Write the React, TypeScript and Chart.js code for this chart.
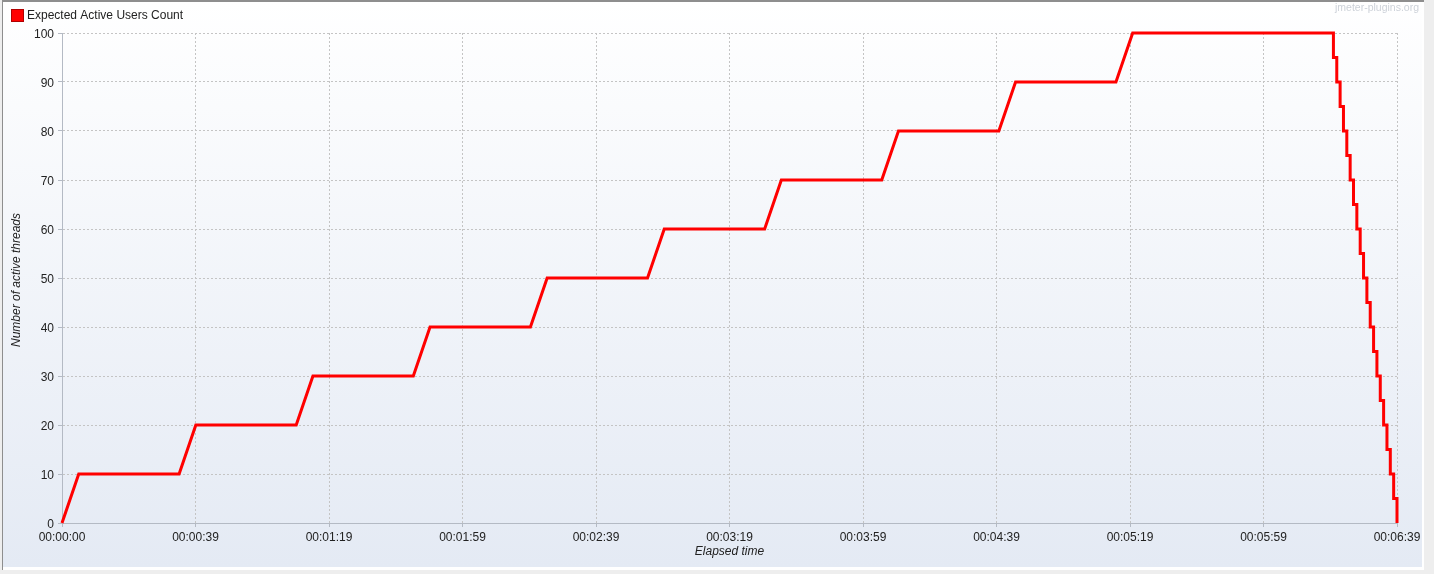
import React, { useEffect, useRef } from 'react';
import { Chart, registerables } from 'chart.js';

Chart.register(...registerables);

const SERIES_LABEL = 'Expected Active Users Count';
const X_TITLE = 'Elapsed time';
const Y_TITLE = 'Number of active threads';
const WATERMARK = 'jmeter-plugins.org';

// elapsed seconds of each breakpoint of the expected-users profile
const ELAPSED_SECONDS = [
  0, 5, 35, 40, 70, 75, 105, 110, 140, 145, 175, 180, 210, 215, 245, 250, 280, 285, 315, 320,
  380, 380, 381, 381, 382, 382, 383, 383, 384, 384, 385, 385, 386, 386, 387, 387, 388, 388, 389, 389,
  390, 390, 391, 391, 392, 392, 393, 393, 394, 394, 395, 395, 396, 396, 397, 397, 398, 398, 399, 399,
];
const ACTIVE_USERS = [
  0, 10, 10, 20, 20, 30, 30, 40, 40, 50, 50, 60, 60, 70, 70, 80, 80, 90, 90, 100,
  100, 95, 95, 90, 90, 85, 85, 80, 80, 75, 75, 70, 70, 65, 65, 60, 60, 55, 55, 50,
  50, 45, 45, 40, 40, 35, 35, 30, 30, 25, 25, 20, 20, 15, 15, 10, 10, 5, 5, 0,
];

const X_MAX_SECONDS = 399;
const X_TICK_LABELS = [
  '00:00:00', '00:00:39', '00:01:19', '00:01:59', '00:02:39', '00:03:19',
  '00:03:59', '00:04:39', '00:05:19', '00:05:59', '00:06:39',
];
const Y_MIN = 0;
const Y_MAX = 100;
const Y_STEP = 10;

const FONT_FAMILY = '"Liberation Sans", Arial, sans-serif';
const TEXT_COLOR = '#222222';

const panelPlugin = {
  id: 'jmeterPanel',
  beforeDraw(chart: any) {
    const ctx = chart.ctx as CanvasRenderingContext2D;
    const W = chart.width;
    const H = chart.height;
    ctx.save();
    ctx.fillStyle = '#eeeeee';
    ctx.fillRect(0, 0, W, H);
    // white bevel (right/bottom)
    ctx.fillStyle = '#ffffff';
    ctx.fillRect(3, 0, 1421, 570);
    // gradient panel
    const g = ctx.createLinearGradient(0, 0, 0, 567);
    g.addColorStop(0, '#ffffff');
    g.addColorStop(1, '#e4eaf4');
    ctx.fillStyle = g;
    ctx.fillRect(3, 2, 1419, 565);
    // dark bevel (top/left)
    ctx.fillStyle = '#8e8e8e';
    ctx.fillRect(2, 0, 1422, 2);
    ctx.fillRect(2, 0, 1, 570);
    ctx.restore();
  },
  afterDraw(chart: any) {
    const ctx = chart.ctx as CanvasRenderingContext2D;
    const area = chart.chartArea;
    ctx.save();
    // legend
    ctx.fillStyle = '#ff0000';
    ctx.fillRect(11, 9, 13, 13);
    ctx.strokeStyle = '#b00000';
    ctx.lineWidth = 1;
    ctx.strokeRect(11.5, 9.5, 12, 12);
    ctx.fillStyle = TEXT_COLOR;
    ctx.font = `12px ${FONT_FAMILY}`;
    ctx.textAlign = 'left';
    ctx.textBaseline = 'middle';
    ctx.fillText(SERIES_LABEL, 27, 16);
    // watermark
    ctx.fillStyle = '#cdd2d9';
    ctx.font = `10.5px ${FONT_FAMILY}`;
    ctx.textAlign = 'right';
    ctx.textBaseline = 'middle';
    ctx.fillText(WATERMARK, 1419, 8);
    // axis titles
    ctx.fillStyle = TEXT_COLOR;
    ctx.font = `italic 12px ${FONT_FAMILY}`;
    ctx.textAlign = 'center';
    ctx.textBaseline = 'middle';
    ctx.fillText(X_TITLE, (area.left + area.right) / 2, 552);
    ctx.translate(17, (area.top + area.bottom) / 2 + 2);
    ctx.rotate(-Math.PI / 2);
    ctx.fillText(Y_TITLE, 0, 0);
    ctx.restore();
  },
};

export default function App() {
  const ref = useRef<HTMLCanvasElement>(null);

  useEffect(() => {
    document.body.style.margin = '0';
    const canvas = ref.current;
    if (!canvas) return;
    const points = ELAPSED_SECONDS.map((t, i) => ({ x: t, y: ACTIVE_USERS[i] }));
    const chart = new Chart(canvas, {
      type: 'line',
      data: {
        datasets: [
          {
            label: SERIES_LABEL,
            data: points,
            borderColor: '#ff0000',
            backgroundColor: '#ff0000',
            borderWidth: 3,
            pointRadius: 0,
            tension: 0,
            fill: false,
            clip: 4,
          },
        ],
      },
      options: {
        animation: false,
        responsive: false,
        events: [],
        layout: { padding: { left: 0, top: 33, right: 37, bottom: 0 } },
        plugins: { legend: { display: false }, tooltip: { enabled: false } },
        scales: {
          x: {
            type: 'linear',
            min: 0,
            max: X_MAX_SECONDS,
            afterBuildTicks: (scale: any) => {
              scale.ticks = X_TICK_LABELS.map((_, i) => ({
                value: (i * X_MAX_SECONDS) / (X_TICK_LABELS.length - 1),
              }));
            },
            afterFit: (scale: any) => {
              scale.height = 51;
            },
            ticks: {
              autoSkip: false,
              maxRotation: 0,
              padding: 3,
              color: TEXT_COLOR,
              font: { family: FONT_FAMILY, size: 12 },
              callback: (_v: any, i: number) => X_TICK_LABELS[i],
            },
            grid: { color: '#c4c4c4', tickLength: 4, tickColor: '#b4bac4' },
            border: { color: '#b4bac4', dash: [2, 2] },
          },
          y: {
            type: 'linear',
            min: Y_MIN,
            max: Y_MAX,
            afterFit: (scale: any) => {
              scale.width = 62;
            },
            ticks: {
              stepSize: Y_STEP,
              padding: 4,
              labelOffset: 1.5,
              color: TEXT_COLOR,
              font: { family: FONT_FAMILY, size: 12 },
            },
            grid: { color: '#c4c4c4', tickLength: 4, tickColor: '#b4bac4' },
            border: { color: '#b4bac4', dash: [2, 2] },
          },
        },
      },
      plugins: [panelPlugin],
    });
    return () => chart.destroy();
  }, []);

  return <canvas ref={ref} width={1434} height={574} style={{ display: 'block', width: 1434, height: 574 }} />;
}
